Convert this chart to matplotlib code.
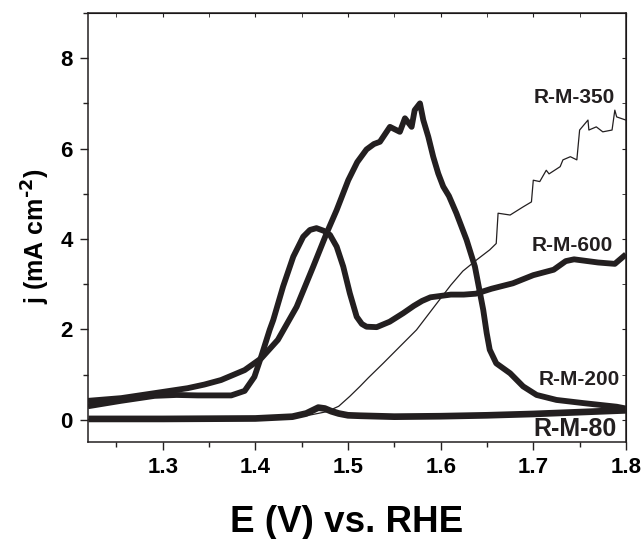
# CV curves of R-M samples (OER region)
import matplotlib
matplotlib.use("Agg")
import matplotlib.pyplot as plt
from matplotlib.ticker import MultipleLocator

plt.rcParams['font.family'] = ['Liberation Sans', 'DejaVu Sans']
plt.rcParams['font.weight'] = 'bold'
plt.rcParams['mathtext.default'] = 'bf'

COR = "#231f20"

# R-M-200 (thick, big peak ~7 mA cm-2)
e_200 = [1.2194, 1.2553, 1.2913, 1.327, 1.345, 1.363, 1.3885, 1.4064, 1.4244, 1.4446,
         1.4625, 1.477, 1.4878, 1.5003, 1.510, 1.520, 1.528, 1.5345, 1.5453, 1.556,
         1.5615, 1.5687, 1.572, 1.5777, 1.5813, 1.5867, 1.592, 1.5974, 1.6028, 1.609,
         1.617, 1.628, 1.637, 1.646, 1.6497, 1.653, 1.660, 1.675, 1.689, 1.7036,
         1.725, 1.754, 1.790, 1.800]
j_200 = [0.42, 0.48, 0.59, 0.70, 0.78, 0.88, 1.10, 1.36, 1.77, 2.50,
         3.39, 4.13, 4.64, 5.30, 5.70, 5.98, 6.10, 6.15, 6.48, 6.37,
         6.67, 6.48, 6.85, 7.00, 6.63, 6.26, 5.82, 5.45, 5.16, 4.95,
         4.57, 3.98, 3.39, 2.43, 1.92, 1.55, 1.25, 1.03, 0.74, 0.55,
         0.44, 0.37, 0.29, 0.25]

# R-M-600 (thick, peak ~4.2 then plateau)
e_600 = [1.2194, 1.255, 1.2913, 1.315, 1.338, 1.374, 1.3885, 1.399, 1.4064, 1.4155,
         1.4194, 1.430, 1.441, 1.4517, 1.459, 1.466, 1.474, 1.4806, 1.4878, 1.4949,
         1.502, 1.5094, 1.515, 1.520, 1.531, 1.545, 1.5597, 1.571, 1.580, 1.589,
         1.600, 1.611, 1.625, 1.638, 1.655, 1.678, 1.700, 1.722, 1.735, 1.744,
         1.770, 1.788, 1.800]
j_600 = [0.30, 0.42, 0.53, 0.55, 0.54, 0.54, 0.64, 0.95, 1.40, 1.99,
         2.21, 2.95, 3.61, 4.05, 4.20, 4.24, 4.18, 4.09, 3.83, 3.39,
         2.80, 2.28, 2.12, 2.06, 2.05, 2.17, 2.36, 2.52, 2.63, 2.71,
         2.74, 2.77, 2.77, 2.79, 2.90, 3.02, 3.20, 3.32, 3.51, 3.55,
         3.48, 3.45, 3.66]

# R-M-350 (linha fina)
e_350 = [1.220, 1.300, 1.400, 1.440, 1.460, 1.477, 1.490, 1.502, 1.513, 1.522,
         1.538, 1.555, 1.574, 1.596, 1.611, 1.624, 1.639, 1.653, 1.660, 1.662,
         1.675, 1.689, 1.698, 1.700, 1.707, 1.714, 1.717, 1.729, 1.732, 1.740,
         1.747, 1.750, 1.759, 1.760, 1.768, 1.775, 1.785, 1.788, 1.790, 1.800]
j_350 = [0.01, 0.01, 0.03, 0.06, 0.11, 0.18, 0.30, 0.52, 0.74, 0.93,
         1.25, 1.60, 1.99, 2.58, 2.98, 3.29, 3.54, 3.76, 3.90, 4.57,
         4.53, 4.71, 4.82, 5.30, 5.27, 5.52, 5.44, 5.60, 5.75, 5.82,
         5.75, 6.41, 6.63, 6.41, 6.48, 6.37, 6.41, 6.85, 6.70, 6.63]

# R-M-80 (thick, near zero)
e_80 = [1.220, 1.300, 1.400, 1.440, 1.455, 1.462, 1.468, 1.475, 1.482, 1.490,
        1.500, 1.513, 1.550, 1.600, 1.650, 1.700, 1.750, 1.800]
j_80 = [0.02, 0.02, 0.03, 0.07, 0.14, 0.21, 0.27, 0.25, 0.19, 0.14,
        0.10, 0.09, 0.07, 0.08, 0.10, 0.13, 0.17, 0.21]

rotulos = ["R-M-350", "R-M-600", "R-M-200", "R-M-80"]
rot_x = [1.788, 1.786, 1.793, 1.790]
rot_y = [7.13, 3.85, 0.90, -0.21]
rot_tam = [15, 15, 15, 18]

fig = plt.figure(figsize=(6.42, 5.39), dpi=100)
ax = fig.add_axes([0.137, 0.180, 0.838, 0.796])

ax.plot(e_80, j_80, color=COR, lw=4.8, solid_capstyle="butt", solid_joinstyle="round")
ax.plot(e_350, j_350, color=COR, lw=0.9)
ax.plot(e_600, j_600, color=COR, lw=4.2, solid_capstyle="butt", solid_joinstyle="round")
ax.plot(e_200, j_200, color=COR, lw=4.2, solid_capstyle="butt", solid_joinstyle="round")

for txt, x, y, s in zip(rotulos, rot_x, rot_y, rot_tam):
    ax.text(x, y, txt, ha="right", va="center", fontsize=s, fontweight="bold", color=COR)

ax.set_xlim(1.2194, 1.8)
ax.set_ylim(-0.49, 9.0)
ax.xaxis.set_major_locator(MultipleLocator(0.1))
ax.xaxis.set_minor_locator(MultipleLocator(0.05))
ax.yaxis.set_major_locator(MultipleLocator(2))
ax.yaxis.set_minor_locator(MultipleLocator(1))

ax.tick_params(which="both", direction="out", top=False, right=False, color=COR, width=1)
ax.tick_params(which="major", length=6, labelsize=16, pad=5)
ax.tick_params(which="minor", length=3.5)
ax.set_xticks([1.3, 1.4, 1.5, 1.6, 1.7, 1.8])
ax.set_xticklabels(["1.3", "1.4", "1.5", "1.6", "1.7", "1.8"])

# ticks internos no topo e na direita
sec_x = ax.secondary_xaxis("top")
sec_x.xaxis.set_major_locator(MultipleLocator(0.1))
sec_x.xaxis.set_minor_locator(MultipleLocator(0.05))
sec_x.tick_params(which="both", direction="in", labeltop=False, length=3, color=COR)
sec_y = ax.secondary_yaxis("right")
sec_y.yaxis.set_major_locator(MultipleLocator(2))
sec_y.yaxis.set_minor_locator(MultipleLocator(1))
sec_y.tick_params(which="both", direction="in", labelright=False, length=3, color=COR)

for sp in ax.spines.values():
    sp.set_color(COR)
    sp.set_linewidth(1.1)

ax.set_ylabel(r"j (mA cm$^{\text{-2}}$)", fontsize=18, fontweight="bold", labelpad=6, y=0.48)
ax.set_xlabel("E (V) vs. RHE", fontsize=26.5, fontweight="bold", labelpad=19, x=0.48)

fig.savefig("out.png", dpi=100)
